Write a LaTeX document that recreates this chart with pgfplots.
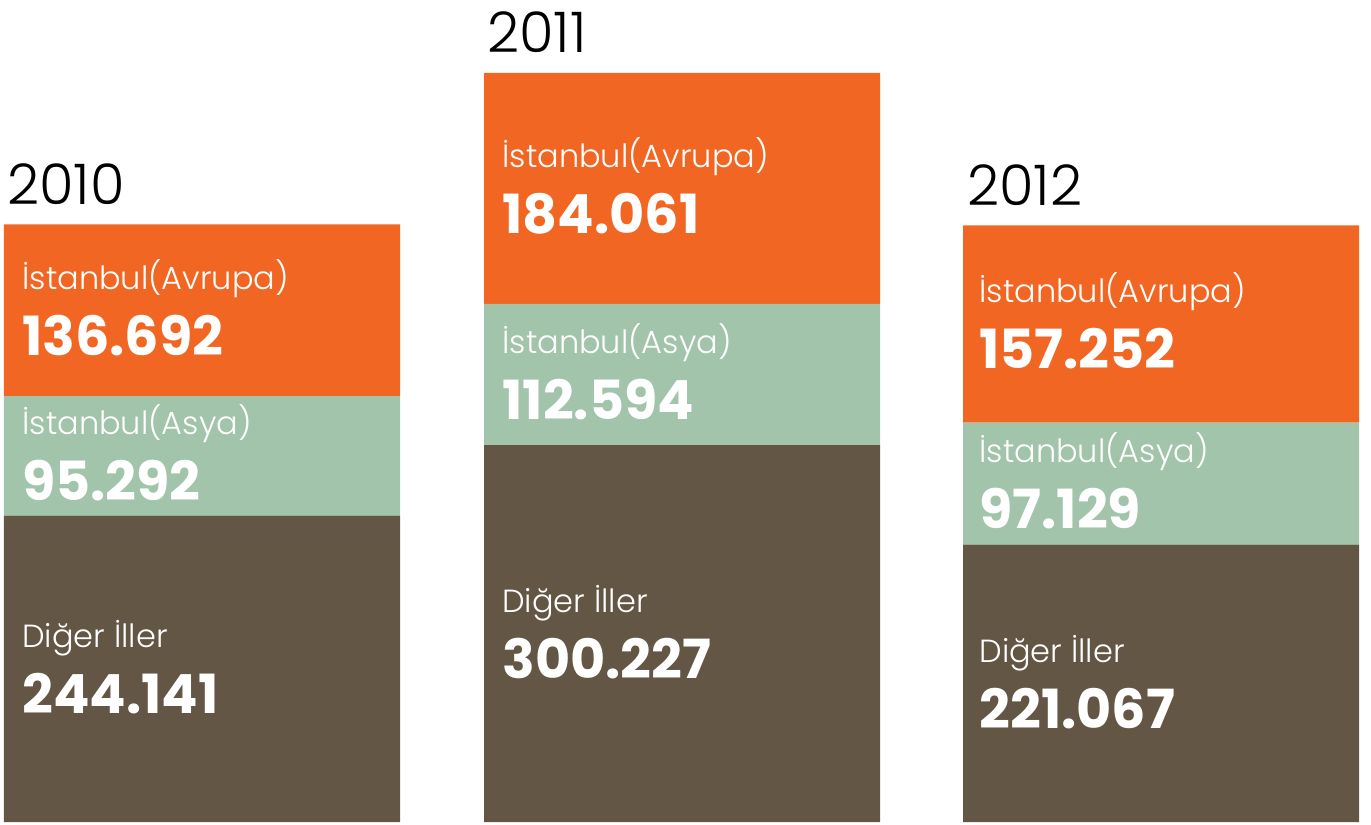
\documentclass[border=0pt]{standalone}
\usepackage{fontspec}
\usepackage{pgfplots}
\pgfplotsset{compat=1.18}
\setmainfont{Poppins}
\newfontfamily\lightfont{Poppins Light}
\definecolor{orng}{RGB}{242,102,36}
\definecolor{grn}{RGB}{161,196,171}
\definecolor{brn}{RGB}{99,86,68}
\begin{document}
\begin{tikzpicture}[
  yearlab/.style={anchor=base west, inner sep=0pt, font=\lightfont\fontsize{28bp}{30bp}\selectfont, text=black, yshift=10bp},
  seglab/.style={anchor=base west, inner sep=0pt, font=\lightfont\fontsize{16bp}{20bp}\selectfont, text=white, yshift=10.5bp},
  segnum/.style={anchor=base west, inner sep=0pt, font=\bfseries\fontsize{27bp}{30bp}\selectfont, text=white, yshift=-22.5bp},
]
\begin{axis}[
  scale only axis, width=685.5bp, height=412.5bp,
  xmin=0, xmax=1371, ymin=-2.39, ymax=655.0,
  axis lines=none, ticks=none, clip=false,
  ybar stacked, bar width=396,
]
\addplot[fill=brn, draw=none] coordinates {(202,244.141) (682,300.227) (1161,221.067)};
\addplot[fill=grn, draw=none] coordinates {(202,95.292) (682,112.594) (1161,97.129)};
\addplot[fill=orng, draw=none] coordinates {(202,136.692) (682,184.061) (1161,157.252)};
\path (rel axis cs:0,0) rectangle (rel axis cs:1,1);
% years
\coordinate (y0) at (axis cs:7,476.125);
\coordinate (y1) at (axis cs:487,596.882);
\coordinate (y2) at (axis cs:967,475.448);
% segment mid-points
\coordinate (a0) at (axis cs:22,122.0705);
\coordinate (b0) at (axis cs:22,291.787);
\coordinate (c0) at (axis cs:22,407.779);
\coordinate (a1) at (axis cs:502,150.1135);
\coordinate (b1) at (axis cs:502,356.524);
\coordinate (c1) at (axis cs:502,504.8515);
\coordinate (a2) at (axis cs:979,110.5335);
\coordinate (b2) at (axis cs:979,269.6315);
\coordinate (c2) at (axis cs:979,396.822);
\end{axis}
\node[yearlab] at (y0) {2010};
\node[yearlab] at (y1) {2011};
\node[yearlab] at (y2) {2012};
% 2010
\node[seglab] at (a0) {Diğer İller};
\node[segnum] at (a0) {244.141};
\node[seglab] at (b0) {İstanbul(Asya)};
\node[segnum] at (b0) {95.292};
\node[seglab] at (c0) {İstanbul(Avrupa)};
\node[segnum] at (c0) {136.692};
% 2011
\node[seglab] at (a1) {Diğer İller};
\node[segnum] at (a1) {300.227};
\node[seglab] at (b1) {İstanbul(Asya)};
\node[segnum] at (b1) {112.594};
\node[seglab] at (c1) {İstanbul(Avrupa)};
\node[segnum] at (c1) {184.061};
% 2012
\node[seglab] at (a2) {Diğer İller};
\node[segnum] at (a2) {221.067};
\node[seglab] at (b2) {İstanbul(Asya)};
\node[segnum] at (b2) {97.129};
\node[seglab] at (c2) {İstanbul(Avrupa)};
\node[segnum] at (c2) {157.252};
\end{tikzpicture}
\end{document}
